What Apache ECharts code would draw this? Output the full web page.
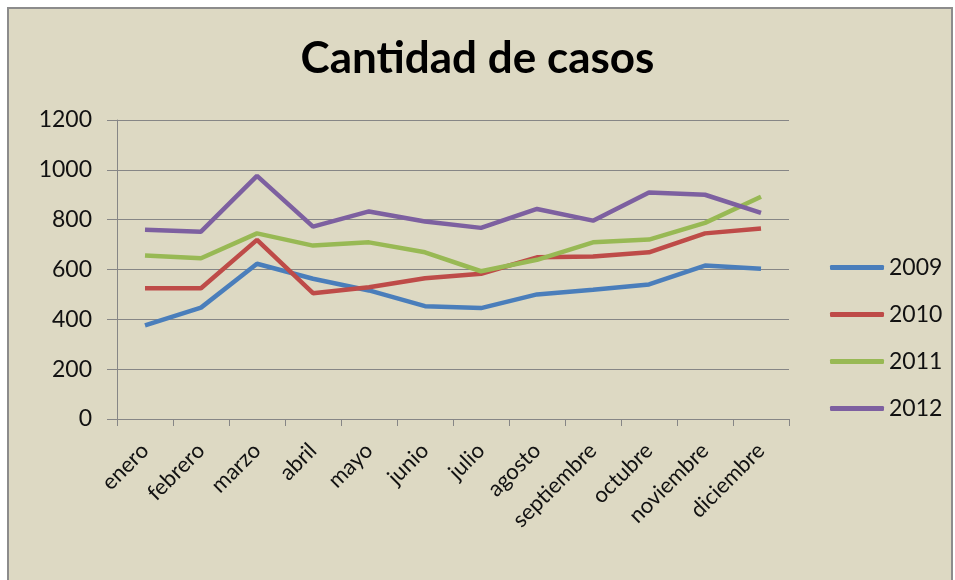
<!DOCTYPE html>
<html>
<head>
<meta charset="utf-8">
<script src="https://cdn.jsdelivr.net/npm/echarts@6/dist/echarts.min.js"></script>
<style>
  html, body { margin: 0; padding: 0; background: #fff; }
  #chart { width: 955px; height: 580px; }
</style>
</head>
<body>
<div id="chart"></div>
<script>
const meses = ['enero', 'febrero', 'marzo', 'abril', 'mayo', 'junio', 'julio', 'agosto', 'septiembre', 'octubre', 'noviembre', 'diciembre'];
const anios = ['2009', '2010', '2011', '2012'];
const casos2009 = [376, 447, 623, 563, 516, 453, 445, 500, 519, 540, 616, 603];
const casos2010 = [525, 525, 719, 505, 529, 565, 583, 649, 652, 669, 745, 765];
const casos2011 = [656, 645, 745, 696, 709, 669, 593, 639, 709, 720, 787, 892];
const casos2012 = [760, 752, 976, 772, 833, 793, 767, 843, 796, 909, 900, 827];
const colores = ['#4a7ebb', '#be4b48', '#98b954', '#7d60a0'];

const serieDatos = [casos2009, casos2010, casos2011, casos2012];
const fuente = 'Lato, "Open Sans", sans-serif';

let chart = echarts.init(document.getElementById('chart'));
let option = {
  backgroundColor: '#ffffff',
  animation: false,
  color: colores,
  graphic: [{
    type: 'rect',
    z: -10,
    shape: { x: 8, y: 8, width: 944, height: 580 },
    style: { fill: '#ddd9c3', stroke: '#8c8c8c', lineWidth: 2 }
  }],
  title: {
    text: 'Cantidad de casos',
    left: 'center',
    top: 32,
    textStyle: { fontFamily: fuente, fontSize: 44, fontWeight: 'bold', color: '#000' }
  },
  legend: {
    orient: 'vertical',
    left: 825,
    top: 251,
    itemGap: 24,
    itemWidth: 54,
    itemHeight: 5,
    icon: 'roundRect',
    data: anios,
    textStyle: { fontFamily: fuente, fontSize: 23, color: '#111' }
  },
  grid: { left: 117, right: 166, top: 120, bottom: 161 },
  xAxis: {
    type: 'category',
    data: meses,
    boundaryGap: true,
    axisLine: { lineStyle: { color: '#868686', width: 1 } },
    axisTick: { show: true, length: 7, lineStyle: { color: '#868686' } },
    axisLabel: {
      interval: 0,
      rotate: 45,
      margin: 28,
      fontFamily: fuente,
      fontSize: 22,
      color: '#111'
    }
  },
  yAxis: {
    type: 'value',
    min: 0,
    max: 1200,
    interval: 200,
    axisLine: { show: true, lineStyle: { color: '#868686', width: 1 } },
    axisTick: { show: true, length: 10, lineStyle: { color: '#868686' } },
    axisLabel: {
      formatter: v => String(v),
      fontFamily: fuente, fontSize: 23, color: '#111', margin: 25
    },
    splitLine: { lineStyle: { color: '#868686', width: 1 } }
  },
  series: anios.map((a, i) => ({
    name: a,
    type: 'line',
    data: serieDatos[i],
    symbol: 'none',
    lineStyle: { width: 4.5, color: colores[i] },
    itemStyle: { color: colores[i] }
  }))
};
chart.setOption(option);
</script>
</body>
</html>
